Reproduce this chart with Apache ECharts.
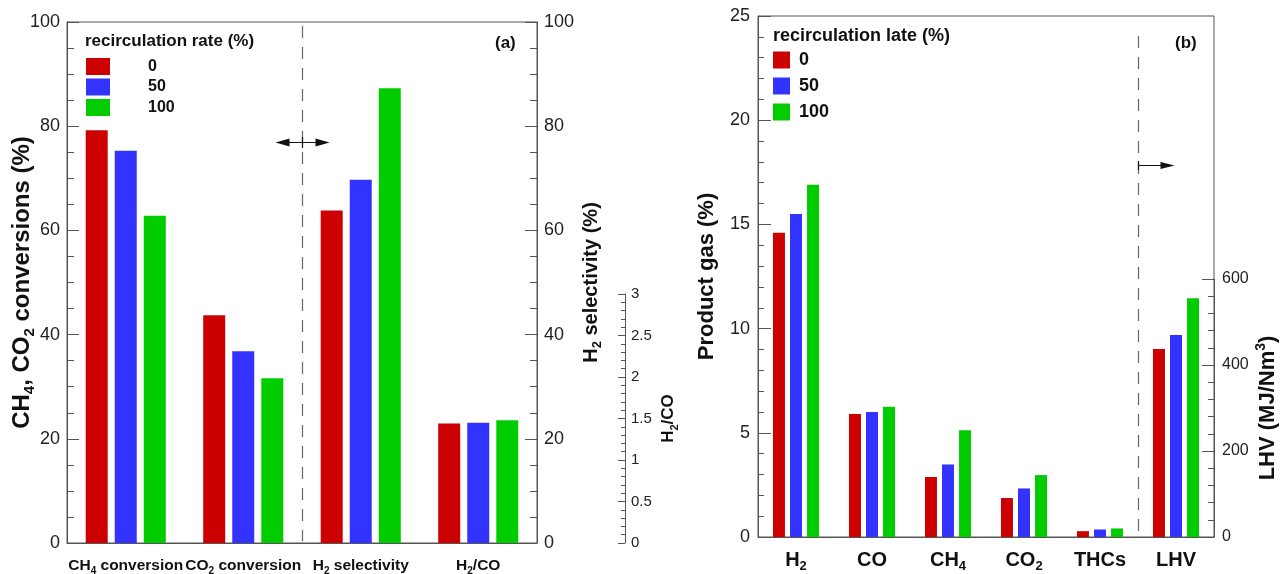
<!DOCTYPE html>
<html><head><meta charset="utf-8">
<script src="https://cdn.jsdelivr.net/npm/echarts@6/dist/echarts.min.js"></script>
<style>html,body{margin:0;padding:0;background:#fff}#c{width:1284px;height:574px}</style>
</head><body><div id="c"></div>
<script>
// ---------- data ----------
const rates = ['0', '50', '100'];
const rateColors = ['#cc0000', '#3333ff', '#00cc00'];

// panel (a)
const catsA = ['CH{s|4} conversion', 'CO{s|2} conversion', 'H{s|2} selectivity', 'H{s|2}/CO'];
const ch4Conversion = [79.2, 75.3, 62.8];
const co2Conversion = [43.7, 36.8, 31.6];
const h2Selectivity = [63.8, 69.7, 87.3];
const h2coRatio = [1.44, 1.45, 1.48];
const convTicks = [0, 20, 40, 60, 80, 100];
const ratioTicks = [0, 0.5, 1, 1.5, 2, 2.5, 3];

// panel (b)
const catsB = ['H{s|2}', 'CO', 'CH{s|4}', 'CO{s|2}', 'THCs', 'LHV'];
const gasH2 = [14.6, 15.5, 16.9];
const gasCO = [5.9, 6.0, 6.25];
const gasCH4 = [2.88, 3.48, 5.12];
const gasCO2 = [1.87, 2.33, 2.97];
const gasTHCs = [0.28, 0.36, 0.41];
const lhv = [437, 470, 555];
const gasTicks = [0, 5, 10, 15, 20, 25];
const lhvTicks = [0, 200, 400, 600];

// ---------- helpers ----------
const FONT = 'Liberation Sans, Arial, sans-serif';
const AX = '#555';
function rng(t) { return { min: t[0], max: t[t.length - 1], interval: t[1] - t[0] }; }
function nameRich(size, sub) {
  return {
    color: '#111', fontFamily: FONT, fontWeight: 'bold', fontSize: size,
    rich: {
      m: { fontFamily: FONT, fontWeight: 'bold', fontSize: size, lineHeight: size + 6, color: '#111' },
      s: { fontFamily: FONT, fontWeight: 'bold', fontSize: sub, lineHeight: sub, verticalAlign: 'bottom', color: '#111' },
      u: { fontFamily: FONT, fontWeight: 'bold', fontSize: sub, lineHeight: sub, verticalAlign: 'top', color: '#111' }
    }
  };
}
function valAxis(o) {
  return Object.assign({
    type: 'value',
    splitLine: { show: false },
    axisLine: { show: true, lineStyle: { color: AX, width: 1 } },
    axisTick: { show: true, inside: true, length: 12, lineStyle: { color: AX } },
    minorTick: { show: true, splitNumber: 4, length: 7, lineStyle: { color: AX } },
    axisLabel: { color: '#222', fontFamily: FONT, fontSize: 18, margin: 7 },
    nameLocation: 'middle', nameRotate: 90, nameMoveOverlap: false
  }, o);
}
function catAxis(cats, grid, size, sub, margin, show) {
  return {
    type: 'category', gridIndex: grid, data: cats, show: show,
    axisLine: { show: true, lineStyle: { color: AX } },
    axisTick: { show: false },
    axisLabel: {
      margin: margin, interval: 0,
      formatter: v => v.split(/(\{s\|[^}]*\})/).map(p => p.startsWith('{s|') ? p : (p ? '{m|' + p + '}' : '')).join(''),
      rich: {
        m: { fontFamily: FONT, fontWeight: 'bold', fontSize: size, lineHeight: size + 6, color: '#111' },
        s: { fontFamily: FONT, fontWeight: 'bold', fontSize: sub, lineHeight: sub, verticalAlign: 'bottom', color: '#111' }
      }
    }
  };
}

// ---------- series ----------
const series = [];
rates.forEach((r, i) => {
  series.push({ name: r, type: 'bar', xAxisIndex: 0, yAxisIndex: 0, barWidth: 22, barGap: '32%',
    itemStyle: { color: rateColors[i] },
    data: [ch4Conversion[i], co2Conversion[i], h2Selectivity[i], '-'] });
});
rates.forEach((r, i) => {
  series.push({ name: r, type: 'bar', xAxisIndex: 1, yAxisIndex: 2, barWidth: 22, barGap: '32%',
    itemStyle: { color: rateColors[i] },
    data: ['-', '-', '-', h2coRatio[i]] });
});
rates.forEach((r, i) => {
  series.push({ name: r, type: 'bar', xAxisIndex: 2, yAxisIndex: 3, barWidth: 12, barGap: '42%',
    itemStyle: { color: rateColors[i] },
    data: [gasH2[i], gasCO[i], gasCH4[i], gasCO2[i], gasTHCs[i], '-'] });
});
rates.forEach((r, i) => {
  series.push({ name: r, type: 'bar', xAxisIndex: 3, yAxisIndex: 4, barWidth: 12, barGap: '42%',
    itemStyle: { color: rateColors[i] },
    data: ['-', '-', '-', '-', '-', lhv[i]] });
});

const chart = echarts.init(document.getElementById('c'), null, { renderer: 'canvas' });
const G = { outerBoundsMode: 'none', containLabel: false };
const option = {
  animation: false,
  backgroundColor: '#fff',
  grid: [
    Object.assign({ left: 67, right: 1284 - 537, top: 22, bottom: 574 - 543, show: true, borderColor: AX, borderWidth: 1 }, G),
    Object.assign({ left: 67, right: 1284 - 537, top: 294, bottom: 574 - 543 }, G),
    Object.assign({ left: 758, right: 1284 - 1214, top: 16, bottom: 574 - 537, show: true, borderColor: AX, borderWidth: 1 }, G),
    Object.assign({ left: 758, right: 1284 - 1214, top: 279, bottom: 574 - 537 }, G)
  ],
  xAxis: [
    catAxis(catsA, 0, 15.5, 10, 12, true),
    catAxis(catsA, 1, 15.5, 10, 12, false),
    catAxis(catsB, 2, 20, 13, 10, true),
    catAxis(catsB, 3, 20, 13, 10, false)
  ],
  yAxis: [
    valAxis(Object.assign({ gridIndex: 0, position: 'left',
      name: '{m|CH}{s|4}{m|, CO}{s|2}{m| conversions (%)}', nameGap: 30,
      nameTextStyle: nameRich(24, 15) }, rng(convTicks))),
    valAxis(Object.assign({ gridIndex: 0, position: 'right',
      name: '{m|H}{s|2}{m| selectivity (%)}', nameGap: 41,
      nameTextStyle: nameRich(20, 13) }, rng(convTicks))),
    valAxis(Object.assign({ gridIndex: 1, position: 'right', offset: 88,
      name: '{m|H}{s|2}{m|/CO}', nameGap: 32,
      minorTick: { show: true, splitNumber: 5, length: 4, lineStyle: { color: AX } },
      axisTick: { show: true, inside: true, length: 7, lineStyle: { color: AX } },
      axisLabel: { color: '#222', fontFamily: FONT, fontSize: 15, margin: 6 },
      nameTextStyle: nameRich(17, 11) }, rng(ratioTicks))),
    valAxis(Object.assign({ gridIndex: 2, position: 'left',
      name: '{m|Product gas (%)}', nameGap: 37,
      axisTick: { show: true, inside: true, length: 13, lineStyle: { color: AX } },
      minorTick: { show: true, splitNumber: 5, length: 6, lineStyle: { color: AX } },
      axisLabel: { color: '#222', fontFamily: FONT, fontSize: 18, margin: 8 },
      nameTextStyle: nameRich(22, 14) }, rng(gasTicks))),
    valAxis(Object.assign({ gridIndex: 3, position: 'right',
      name: '{m|LHV (MJ/Nm}{u|3}{m|)}', nameGap: 40,
      axisTick: { show: true, inside: true, length: 12, lineStyle: { color: AX } },
      minorTick: { show: true, splitNumber: 5, length: 6, lineStyle: { color: AX } },
      axisLabel: { color: '#222', fontFamily: FONT, fontSize: 16, margin: 8 },
      nameTextStyle: nameRich(22, 14) }, rng(lhvTicks)))
  ],
  legend: [
    { left: 86, top: 58, orient: 'vertical', itemWidth: 24, itemHeight: 17, itemGap: 3.5, padding: 0,
      selectedMode: false, icon: 'rect', data: rates,
      textStyle: { fontFamily: FONT, fontWeight: 'bold', fontSize: 16, color: '#111', padding: [0, 0, 0, 33] } },
    { left: 773, top: 51, orient: 'vertical', itemWidth: 17, itemHeight: 17, itemGap: 8, padding: 0,
      selectedMode: false, icon: 'rect', data: rates,
      textStyle: { fontFamily: FONT, fontWeight: 'bold', fontSize: 18, color: '#111', padding: [0, 0, 0, 4] } }
  ],
  series: series
};
chart.setOption(option);

// ---------- decorations (separators, arrows, labels) ----------
const xa1 = chart.convertToPixel({ xAxisIndex: 0 }, 1), xa2 = chart.convertToPixel({ xAxisIndex: 0 }, 2);
const sepA = Math.round((xa1 + xa2) / 2) + 0.5;
const xb4 = chart.convertToPixel({ xAxisIndex: 2 }, 4), xb5 = chart.convertToPixel({ xAxisIndex: 2 }, 5);
const sepB = Math.round((xb4 + xb5) / 2) + 0.5;
const dash = { stroke: '#666', lineWidth: 1.2, lineDash: [12, 9] };
const blk = { stroke: '#111', lineWidth: 1.2 };
const graphic = [
  { type: 'line', shape: { x1: sepA, y1: 26, x2: sepA, y2: 541 }, style: dash, silent: true },
  { type: 'line', shape: { x1: sepB, y1: 36, x2: sepB, y2: 535 }, style: dash, silent: true },
  // double arrow (a)
  { type: 'line', shape: { x1: sepA - 24, y1: 142.5, x2: sepA + 24, y2: 142.5 }, style: blk },
  { type: 'line', shape: { x1: sepA, y1: 137, x2: sepA, y2: 148 }, style: blk },
  { type: 'polygon', shape: { points: [[sepA - 27, 142.5], [sepA - 13, 138.5], [sepA - 13, 146.5]] }, style: { fill: '#111' } },
  { type: 'polygon', shape: { points: [[sepA + 27, 142.5], [sepA + 13, 138.5], [sepA + 13, 146.5]] }, style: { fill: '#111' } },
  // right arrow (b)
  { type: 'line', shape: { x1: sepB, y1: 165.5, x2: sepB + 34, y2: 165.5 }, style: blk },
  { type: 'line', shape: { x1: sepB, y1: 161, x2: sepB, y2: 170 }, style: blk },
  { type: 'polygon', shape: { points: [[sepB + 36, 165.5], [sepB + 22, 162], [sepB + 22, 169]] }, style: { fill: '#111' } },
  // legend titles and panel letters
  { type: 'text', left: 85, top: 33, style: { text: 'recirculation rate (%)', font: 'bold 17px ' + FONT, fill: '#111' } },
  { type: 'text', left: 773, top: 27, style: { text: 'recirculation late (%)', font: 'bold 18px ' + FONT, fill: '#111' } },
  { type: 'text', left: 495, top: 35, style: { text: '(a)', font: 'bold 17px ' + FONT, fill: '#111' } },
  { type: 'text', left: 1175, top: 35, style: { text: '(b)', font: 'bold 17px ' + FONT, fill: '#111' } }
];
chart.setOption({ graphic: graphic });
</script>
</body></html>
